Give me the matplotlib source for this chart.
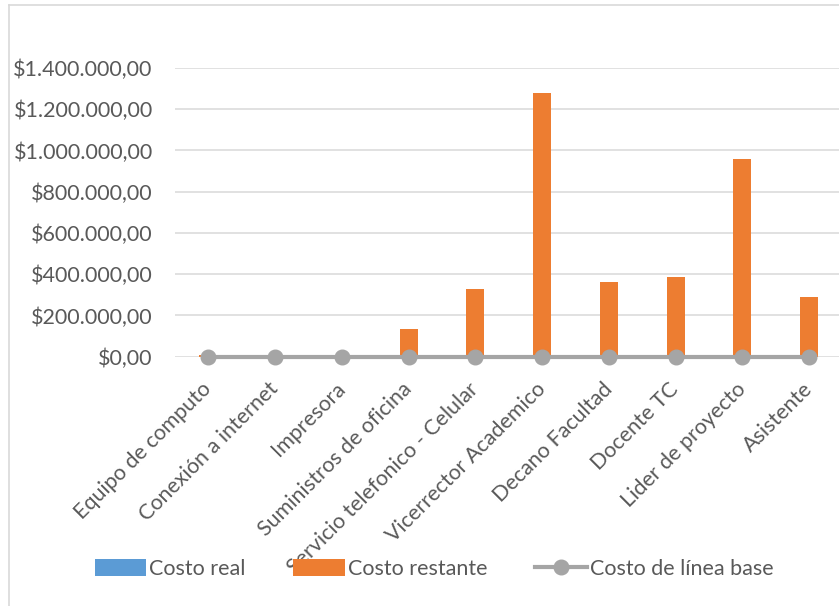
import numpy as np
import matplotlib
matplotlib.use("Agg")
import matplotlib.pyplot as plt
from matplotlib.lines import Line2D
from matplotlib.patches import Patch
from matplotlib.ticker import FuncFormatter

plt.rcParams['font.family'] = ['Lato', 'DejaVu Sans']

categorias = [
    "Equipo de computo", "Conexión a internet", "Impresora",
    "Suministros de oficina", "Servicio telefonico - Celular",
    "Vicerrector Academico", "Decano Facultad", "Docente TC",
    "Lider de proyecto", "Asistente",
]
costo_real = [0, 0, 0, 0, 0, 0, 0, 0, 0, 0]
costo_restante = [8000, 0, 0, 133000, 328000, 1280000, 364000, 386000, 959000, 290000]
costo_linea_base = [0, 0, 0, 0, 0, 0, 0, 0, 0, 0]

AZUL = "#5B9BD5"
NARANJA = "#ED7D31"
GRIS = "#A5A5A5"
TEXTO = "#595959"
REJILLA = "#D9D9D9"
FS = 15.5


def moneda(v, pos):
    # formato de moneda con punto de miles y coma decimal
    s = f"{v:,.2f}".replace(",", "X").replace(".", ",").replace("X", ".")
    return "$" + s


W, H = 839, 606
fig = plt.figure(figsize=(W / 100, H / 100), dpi=100)
ax = fig.add_axes([175 / W, 1 - 356.7 / H, (842.6 - 175) / W, (356.7 - 68) / H])

x = np.arange(len(categorias))
ancho = 0.27
ax.bar(x, costo_real, width=ancho, color=AZUL, zorder=2)
ax.bar(x, costo_restante, width=ancho, bottom=costo_real, color=NARANJA, zorder=2)
ax.plot(x, costo_linea_base, color=GRIS, linewidth=3.0, marker="o",
        markersize=10.5, zorder=3, clip_on=False)

ax.set_xlim(-0.5, len(categorias) - 0.5)
ax.set_ylim(0, 1400000)
ax.set_yticks(np.arange(0, 1400001, 200000))
ax.yaxis.set_major_formatter(FuncFormatter(moneda))
ax.grid(axis="y", color=REJILLA, linewidth=1.1, zorder=0)
ax.set_axisbelow(True)
for s in ax.spines.values():
    s.set_visible(False)

ax.tick_params(axis="y", length=0, pad=16, labelsize=FS, labelcolor=TEXTO)
ax.tick_params(axis="x", length=0, pad=21, labelsize=FS, labelcolor=TEXTO)
ax.set_xticks(x)
ax.set_xticklabels(categorias, rotation=45, ha="right", va="center",
                   rotation_mode="anchor")

# marco del gráfico (borde izquierdo y superior)
fig.add_artist(Line2D([8.5 / W, 8.5 / W], [0, 1 - 5 / H], color=REJILLA,
                      linewidth=1.2, transform=fig.transFigure))
fig.add_artist(Line2D([8.5 / W, 1], [1 - 5 / H, 1 - 5 / H], color=REJILLA,
                      linewidth=1.2, transform=fig.transFigure))

handles = [
    Patch(facecolor=AZUL, label="Costo real"),
    Patch(facecolor=NARANJA, label="Costo restante"),
    Line2D([0], [0], color=GRIS, linewidth=3.0, marker="o", markersize=10.5,
           label="Costo de línea base"),
]
fig.legend(handles=handles, loc="center", bbox_to_anchor=(434 / W, 1 - 569 / H),
           ncol=3, frameon=False, fontsize=FS, labelcolor=TEXTO,
           handlelength=2.4, handleheight=0.85, handletextpad=0.15,
           columnspacing=2.2)

fig.savefig("out.png", dpi=100)
